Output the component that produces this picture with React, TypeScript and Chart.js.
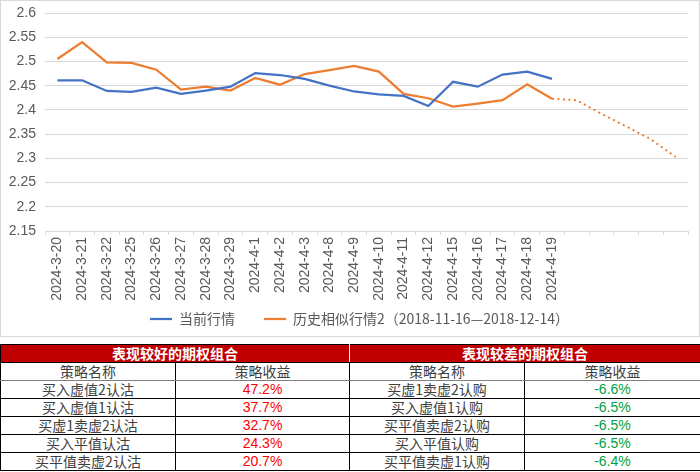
import React, { useEffect, useRef } from 'react';
import { Chart, registerables } from 'chart.js';

Chart.register(...registerables);

const categories = [
  '2024-3-20', '2024-3-21', '2024-3-22', '2024-3-25', '2024-3-26', '2024-3-27', '2024-3-28',
  '2024-3-29', '2024-4-1', '2024-4-2', '2024-4-3', '2024-4-8', '2024-4-9', '2024-4-10',
  '2024-4-11', '2024-4-12', '2024-4-15', '2024-4-16', '2024-4-17', '2024-4-18', '2024-4-19',
  '', '', '', '', '',
];
const currentValues = [
  2.461, 2.461, 2.439, 2.437, 2.446, 2.433, 2.44, 2.448, 2.476, 2.472, 2.464,
  2.45, 2.438, 2.432, 2.429, 2.408, 2.458, 2.448, 2.473, 2.479, 2.464,
];
const historyValues = [
  2.505, 2.54, 2.498, 2.497, 2.483, 2.442, 2.448, 2.44, 2.466, 2.452, 2.474,
  2.482, 2.491, 2.479, 2.433, 2.424, 2.407, 2.413, 2.42, 2.453, 2.423,
  2.42, 2.392, 2.366, 2.339, 2.303,
];
const solidCount = 21;
const seriesNames = ['当前行情', '历史相似行情2（2018-11-16—2018-12-14）'];
const yMin = 2.15;
const yMax = 2.6;
const yStep = 0.05;

const goodTitle = '表现较好的期权组合';
const badTitle = '表现较差的期权组合';
const headerNames = ['策略名称', '策略收益'];
const goodNames = ['买入虚值2认沽', '买入虚值1认沽', '买虚1卖虚2认沽', '买入平值认沽', '买平值卖虚2认沽'];
const goodReturns = ['47.2%', '37.7%', '32.7%', '24.3%', '20.7%'];
const badNames = ['买虚1卖虚2认购', '买入虚值1认购', '买平值卖虚2认购', '买入平值认购', '买平值卖虚1认购'];
const badReturns = ['-6.6%', '-6.5%', '-6.5%', '-6.5%', '-6.4%'];

const SANS = '"Liberation Sans", Arial, "Noto Sans CJK SC", sans-serif';
const CJK = '"Noto Sans CJK SC", "Liberation Sans", sans-serif';

const legendShift = {
  id: 'legendShift',
  afterLayout(c: any) {
    if (c.legend) {
      c.legend.left += 15;
      c.legend.right += 15;
    }
  },
};

function LineChart() {
  const ref = useRef<HTMLCanvasElement | null>(null);
  useEffect(() => {
    if (!ref.current) return;
    const chart = new Chart(ref.current, {
      type: 'line',
      data: {
        labels: categories,
        datasets: [
          {
            label: seriesNames[0],
            data: currentValues,
            borderColor: '#4472C4',
            backgroundColor: '#4472C4',
            borderWidth: 2.25,
            pointRadius: 0,
            tension: 0,
          },
          {
            label: seriesNames[1],
            data: historyValues,
            borderColor: '#ED7D31',
            backgroundColor: '#ED7D31',
            borderWidth: 2.25,
            pointRadius: 0,
            tension: 0,
            segment: {
              borderDash: (ctx: any) => (ctx.p0DataIndex >= solidCount - 1 ? [2, 3.5] : undefined),
              borderWidth: (ctx: any) => (ctx.p0DataIndex >= solidCount - 1 ? 2 : undefined),
            },
          },
        ],
      },
      options: {
        responsive: false,
        animation: false,
        maintainAspectRatio: false,
        layout: { padding: { top: 12, right: 11, left: 0, bottom: 0 } },
        plugins: {
          tooltip: { enabled: false },
          legend: {
            position: 'bottom',
            labels: {
              usePointStyle: true,
              pointStyle: 'line',
              pointStyleWidth: 22,
              padding: 8,
              color: '#595959',
              font: { family: CJK, size: 14 },
              generateLabels: (c: any) => {
                const items = Chart.defaults.plugins.legend.labels.generateLabels(c);
                if (items[0]) items[0].text = items[0].text + '\u3000\u2002';
                return items;
              },
            },
          },
        },
        scales: {
          x: {
            offset: true,
            afterFit: (s: any) => { s.height = 73; },
            grid: {
              offset: true,
              drawOnChartArea: false,
              drawTicks: true,
              tickLength: 4,
              color: '#D9D9D9',
            },
            border: { display: true, color: '#D9D9D9' },
            ticks: {
              autoSkip: false,
              minRotation: 90,
              maxRotation: 90,
              padding: 2,
              color: '#595959',
              font: { family: SANS, size: 14 },
            },
          },
          y: {
            min: yMin,
            max: yMax,
            afterFit: (s: any) => { s.width = 44; s.paddingTop = 0; s.paddingBottom = 0; },
            grid: { color: '#D9D9D9', drawTicks: false },
            border: { display: false },
            ticks: {
              stepSize: yStep,
              padding: 9,
              color: '#595959',
              font: { family: SANS, size: 14 },
              callback: (v: any) => String(Number(Number(v).toFixed(2))),
            },
          },
        },
      },
      plugins: [legendShift],
    });
    return () => chart.destroy();
  }, []);
  return <canvas ref={ref} width={698} height={335} style={{ display: 'block', width: 698, height: 335 }} />;
}

const cellBase: React.CSSProperties = {
  height: 17,
  padding: 0,
  textAlign: 'center',
  verticalAlign: 'middle',
  fontSize: 14,
  lineHeight: '17px',
  whiteSpace: 'nowrap',
  overflow: 'hidden',
};

function OptionTable() {
  const rows = goodNames.map((_, i) => i);
  return (
    <table
      style={{
        borderCollapse: 'collapse',
        tableLayout: 'fixed',
        width: 700,
        position: 'absolute',
        left: 0,
        top: 344,
        border: '1px solid #000',
      }}
    >
      <colgroup>
        <col style={{ width: 175 }} />
        <col style={{ width: 174 }} />
        <col style={{ width: 175 }} />
        <col style={{ width: 176 }} />
      </colgroup>
      <tbody>
        <tr>
          <td
            colSpan={2}
            style={{ ...cellBase, background: '#C00000', color: '#fff', fontWeight: 'bold', fontFamily: CJK, borderRight: '1px solid #fff', borderBottom: '1px solid #000' }}
          >
            {goodTitle}
          </td>
          <td
            colSpan={2}
            style={{ ...cellBase, background: '#C00000', color: '#fff', fontWeight: 'bold', fontFamily: CJK, borderBottom: '1px solid #000' }}
          >
            {badTitle}
          </td>
        </tr>
        <tr>
          {[0, 1, 2, 3].map((c) => (
            <td
              key={c}
              style={{
                ...cellBase,
                fontFamily: CJK,
                color: '#404040',
                borderRight: c < 3 ? '1px solid #000' : undefined,
                borderBottom: '1px solid #808080',
              }}
            >
              {headerNames[c % 2]}
            </td>
          ))}
        </tr>
        {rows.map((i) => (
          <tr key={i}>
            <td style={{ ...cellBase, fontFamily: CJK, color: '#404040', borderRight: '1px solid #000', borderBottom: '1px solid #000' }}>
              {goodNames[i]}
            </td>
            <td style={{ ...cellBase, fontFamily: SANS, color: '#FF0000', borderRight: '1px solid #000', borderBottom: '1px solid #000' }}>
              {goodReturns[i]}
            </td>
            <td style={{ ...cellBase, fontFamily: CJK, color: '#404040', borderRight: '1px solid #000', borderBottom: '1px solid #000' }}>
              {badNames[i]}
            </td>
            <td style={{ ...cellBase, fontFamily: SANS, color: '#00A040', borderBottom: '1px solid #000' }}>
              {badReturns[i]}
            </td>
          </tr>
        ))}
      </tbody>
    </table>
  );
}

export default function App() {
  return (
    <div style={{ position: 'absolute', left: 0, top: 0, width: 700, height: 472, background: '#fff', overflow: 'hidden' }}>
      <div
        style={{
          position: 'absolute',
          left: 0,
          top: 0,
          width: 700,
          height: 337,
          border: '1px solid #D9D9D9',
          boxSizing: 'border-box',
        }}
      >
        <LineChart />
      </div>
      <OptionTable />
    </div>
  );
}
